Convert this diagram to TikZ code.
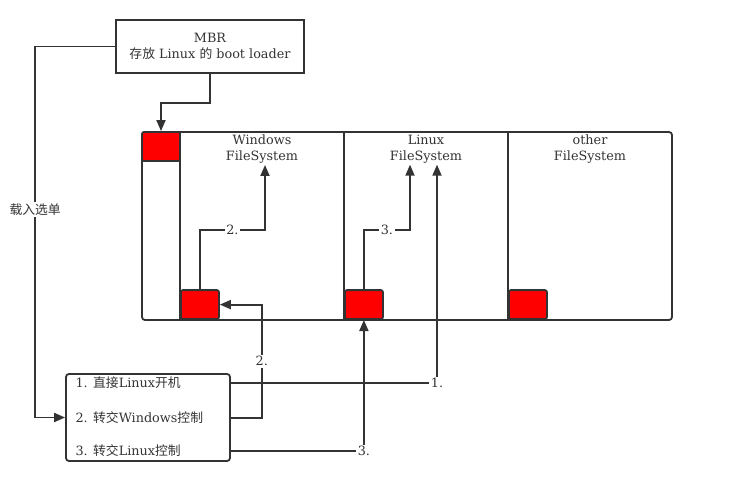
\documentclass[tikz,border=0pt]{standalone}
\usepackage{fontspec}
\setmainfont{DejaVu Serif}
\newfontfamily\cjk{Noto Sans CJK SC}
\usetikzlibrary{arrows.meta,positioning,calc}

\definecolor{linegray}{HTML}{333333}
\tikzset{
  line/.style={draw=linegray, line width=1.8pt},
  arr/.style={line, -{Triangle[length=11pt,width=9pt]}},
  redbox/.style={draw=linegray, fill=red, line width=1.8pt, rounded corners=2pt,
                 minimum width=38pt, minimum height=29pt, inner sep=0pt},
  txt/.style={font=\fontsize{12.8}{16}\selectfont, text=linegray},
  fstext/.style={txt, align=center, inner sep=1pt, anchor=north},
  lbl/.style={txt, fill=white, inner sep=1.5pt},
}

\begin{document}
\begin{tikzpicture}[x=1pt,y=-1pt]
    \useasboundingbox (0,0) rectangle (747,479);
    % MBR and the disk
    \node[line, txt, align=center, minimum width=188pt, minimum height=53pt] (mbr) at (210,46.5)
        {\raisebox{-2pt}{MBR}\\\raisebox{-2pt}{{\cjk 存放} Linux {\cjk 的} boot loader}};
    \node[line, rounded corners=3pt, minimum width=530pt, minimum height=188pt] (disk) at (407,226) {};
    \foreach \x in {180,344,508}
        \draw [line] (\x,132) -- (\x,320);
    \node[redbox, anchor=north west] (boot) at (disk.north west) {};
    \foreach \n/\x in {winrb/180,linrb/344,othrb/508}
        \node[redbox, anchor=south west] (\n) at (\x,320) {};
    \foreach \n/\x/\t in {wintxt/262/Windows,lintxt/426/Linux,othtxt/590/other}
        \node[fstext] (\n) at (\x,134) {\t\\FileSystem};
    % menu
    \node[line, rounded corners=3pt, minimum width=164pt, minimum height=87pt] (menu) at (148,417.5) {};
    \node[txt, anchor=west] (m1) at (72,383) {1. {\cjk 直接}Linux{\cjk 开机}};
    \node[txt, anchor=west] (m2) at (72,418) {2. {\cjk 转交}Windows{\cjk 控制}};
    \node[txt, anchor=west] (m3) at (72,451) {3. {\cjk 转交}Linux{\cjk 控制}};
    % connectors
    \draw [arr] (mbr.south) -- ++(0,29) -| (boot.north);
    \draw [arr] (mbr.west) -| node[lbl, pos=0.72] {\cjk 载入选单} ($(menu.west)+(-30,0)$) -- (menu.west);
    \draw [arr] (winrb.north) |- node[lbl, pos=0.75] {2.} ($(wintxt.south)+(3,65)$) -- ($(wintxt.south)+(3,0)$);
    \draw [arr] (linrb.north) |- node[lbl, pos=0.75] {3.} ($(lintxt.south)+(-16,65)$) -- ($(lintxt.south)+(-16,0)$);
    \draw [arr] (m1 -| menu.east) -| node[lbl, pos=0.5] {1.} ($(lintxt.south)+(11,0)$);
    \draw [arr] (m2 -| menu.east) -| node[lbl, pos=0.75] {2.} ($(winrb.east)+(42,0)$) -- (winrb.east);
    \draw [arr] (m3 -| menu.east) -| node[lbl, pos=0.5] {3.} (linrb.south);
\end{tikzpicture}
\end{document}
